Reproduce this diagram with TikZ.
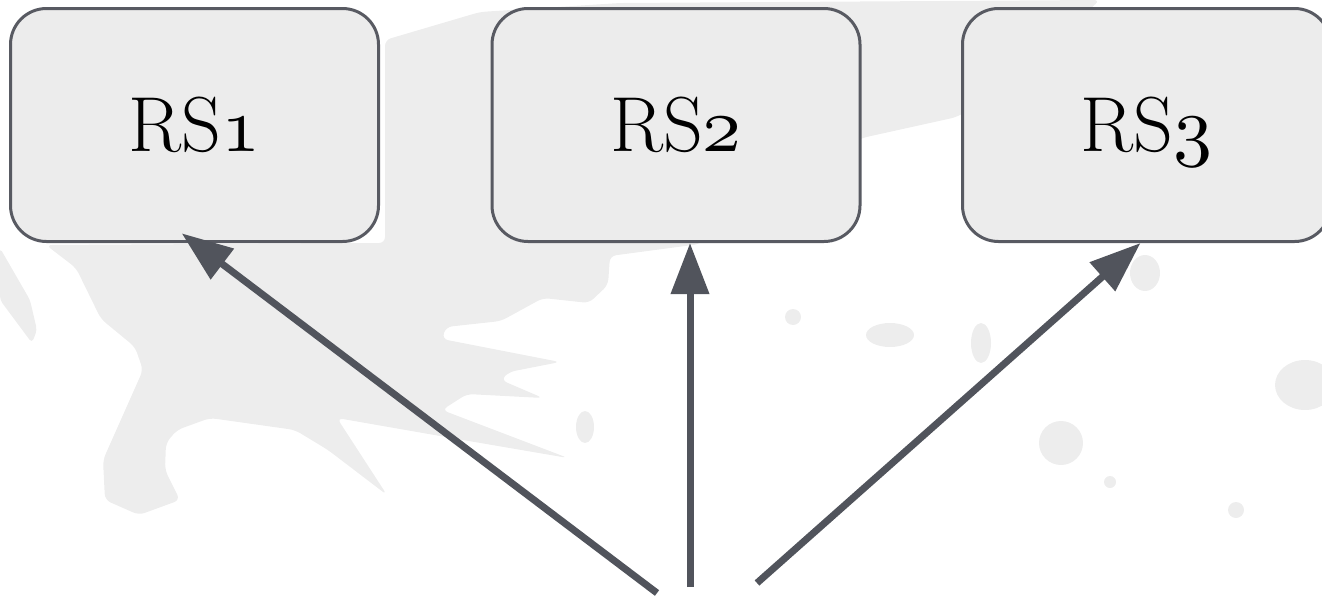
\documentclass[tikz,border=0pt]{standalone}
\usepackage{tikz}
\usetikzlibrary{arrows.meta}

% let the math italic font scale freely (its digits are old style)
\DeclareFontShape{OML}{cmm}{m}{it}{<->cmmi10}{}

\definecolor{boxfill}{HTML}{ECECEC}
\definecolor{boxline}{HTML}{585A62}
\definecolor{arrowgray}{HTML}{51545C}
\definecolor{brushgray}{HTML}{EDEDED}

\newcommand\osdigit[1]{$\mathnormal{#1}$}

\tikzset{
  rsbox/.style={draw=boxline, fill=boxfill, line width=3pt, rounded corners=36pt,
                minimum width=368pt, minimum height=233pt, inner sep=0pt,
                text height=53pt, text depth=0pt,
                font=\fontsize{78}{90}\selectfont},
  rsarrow/.style={draw=arrowgray, line width=7pt,
                  -{Triangle[width=37pt,length=51pt]}},
  brush/.style={fill=brushgray, draw=none}
}

\begin{document}
\begin{tikzpicture}[x=1pt,y=-1pt]
       \useasboundingbox (0,0) rectangle (1322,597);
       \clip (0,0) rectangle (1322,597);

       % background brush strokes
       \fill[brush, rounded corners=6pt] (385,40) -- (480,12) -- (620,3) -- (1100,0) -- (1000,90)
              -- (957,117) -- (862,138) -- (760,190) -- (700,244) -- (610,256) -- (608,285)
              -- (589,303) -- (543,298) -- (501,321) -- (446,327) -- (442,339) -- (560,362)
              -- (509,372) -- (501,380) -- (543,398) -- (467,394) -- (442,410) -- (568,458)
              -- (463,440) -- (337,418) -- (387,495) -- (328,450) -- (295,430) -- (210,418)
              -- (177,430) -- (166,443) -- (165,470) -- (180,500) -- (139,515) -- (105,500)
              -- (103,460) -- (143,370) -- (135,347) -- (101,319) -- (76,268) -- (46,245)
              -- (385,243) -- cycle;
       \fill[brush, rounded corners=4pt] (0,248) -- (30,300) -- (37,330) -- (32,343) -- (0,300) -- cycle;
       \fill[brush] (1145,273) ellipse (15 and 18);
       \fill[brush] (890,335) ellipse (24 and 12);
       \fill[brush] (981,343) ellipse (10 and 20);
       \fill[brush] (1061,443) ellipse (22 and 22);
       \fill[brush] (1305,385) ellipse (30 and 25);
       \fill[brush] (585,427) ellipse (9 and 16);
       \fill[brush] (1110,482) circle (6);
       \fill[brush] (1236,510) circle (8);
       \fill[brush] (793,317) circle (8);

       % boxes
       \node[rsbox] (rs1) at (194.5,125) {RS\osdigit{1}};
       \node[rsbox] (rs2) at (676,125) {RS\osdigit{2}};
       \node[rsbox] (rs3) at (1146.5,125) {RS\osdigit{3}};

       \coordinate (s1) at (657,593);
       \coordinate (s2) at (690,587);
       \coordinate (s3) at (757,583);

       \draw[rsarrow, shorten >=-16pt] (s1) -- (rs1.south);
       \draw[rsarrow] (s2) -- (s2 |- rs2.south);
       \draw[rsarrow] (s3) -- ([xshift=-6pt]rs3.south);
\end{tikzpicture}
\end{document}
